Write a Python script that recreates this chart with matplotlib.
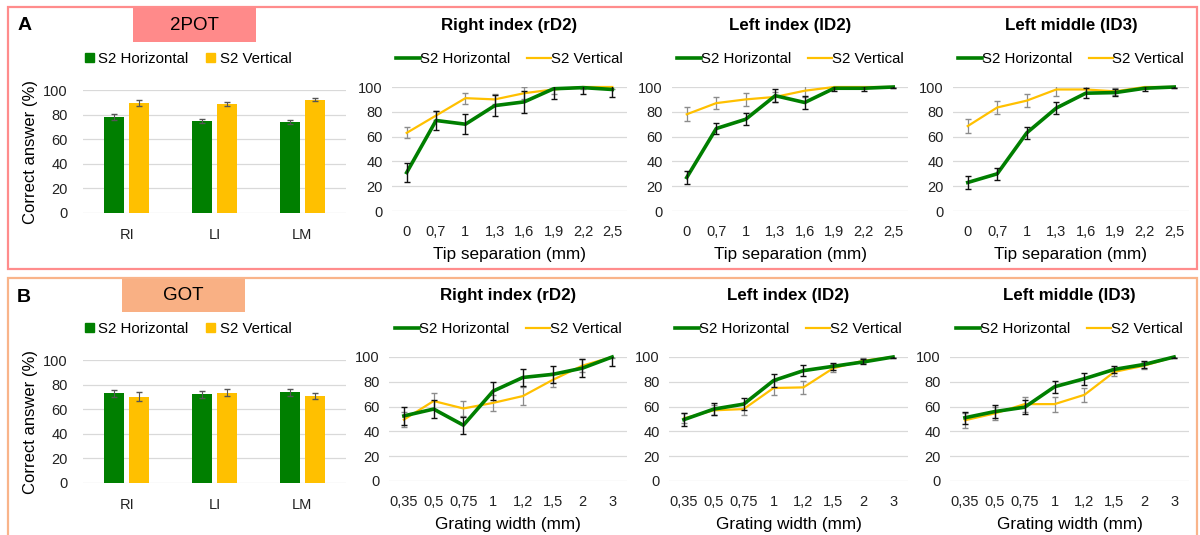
import matplotlib
matplotlib.use('Agg')
import numpy as np
from matplotlib import pyplot as plt
from matplotlib.patches import Rectangle
from matplotlib.lines import Line2D

plt.rcParams['font.family'] = ['Liberation Sans', 'DejaVu Sans']

W, H = 1200, 535
GREEN = '#007f00'
YELLOW = '#ffc000'
GRID = '#d9d9d9'

# bar charts (mean over all separations)
fingers = ['RI', 'LI', 'LM']
pot_h = [78, 74.6, 74]
pot_h_err = [2.6, 1.6, 1.4]
pot_v = [89.3, 88.6, 91.9]
pot_v_err = [2.2, 2.0, 1.2]
got_h = [73, 72.2, 73.8]
got_h_err = [2.7, 2.7, 2.8]
got_v = [70.3, 73.5, 70.8]
got_v_err = [3.6, 3.0, 2.7]

# 2POT line charts
tip_labels = ['0', '0,7', '1', '1,3', '1,6', '1,9', '2,2', '2,5']
pot_rd2_h = [31, 73, 70, 85, 88, 98.6, 99.5, 98]
pot_rd2_h_err = [8, 8, 8, 8.5, 9, 8, 5, 6]
pot_rd2_v = [63, 77, 91, 90, 95, 98, 100, 100]
pot_rd2_v_err = [4.5, 4, 4.5, 4, 5, 4, 2, 2]
pot_ld2_h = [27, 66.5, 74, 93, 87.5, 99, 99, 100]
pot_ld2_h_err = [5, 4.5, 5, 5, 5, 2, 2, 1]
pot_ld2_v = [78, 87, 90, 92, 97, 100, 100, 100]
pot_ld2_v_err = [5.5, 5, 5, 4, 5, 2, 1, 1]
pot_ld3_h = [23, 30, 63, 83, 95, 95.5, 99, 100]
pot_ld3_h_err = [5, 5, 5, 5, 4, 3, 2, 1]
pot_ld3_v = [68.5, 83.5, 89, 98, 98, 96.5, 100, 100]
pot_ld3_v_err = [5.5, 5, 5.5, 5, 3, 3, 1, 1]

# GOT line charts
grat_labels = ['0,35', '0,5', '0,75', '1', '1,2', '1,5', '2', '3']
got_rd2_h = [52.5, 58, 45, 72.5, 83.5, 86, 91, 100]
got_rd2_h_err = [7, 7, 7, 7, 7, 7, 7, 7]
got_rd2_v = [49.5, 64.5, 58.5, 63, 68.5, 81.5, 93, 100]
got_rd2_v_err = [6, 6.5, 6, 6.5, 7, 6, 5, 1]
got_ld2_h = [49.5, 58, 62, 81, 89, 92.5, 96, 100]
got_ld2_h_err = [5, 5, 5, 5, 4.5, 3, 2, 1]
got_ld2_v = [50.5, 57, 58, 75, 75.5, 91, 97, 100]
got_ld2_v_err = [4, 4, 5, 5.5, 5, 3, 2, 1]
got_ld3_h = [51, 56, 59.5, 76, 82.5, 90, 94, 100]
got_ld3_h_err = [5, 5, 5.5, 5, 5, 3, 3, 1]
got_ld3_v = [49, 54.5, 62, 62, 69.5, 88, 93, 100]
got_ld3_v_err = [6, 5, 6, 6, 5.5, 3, 3, 1]


def box(l, t, r, b):
    return [l / W, 1 - b / H, (r - l) / W, (b - t) / H]


def style_axes(ax):
    ax.set_ylim(0, 100)
    ax.set_yticks(range(0, 101, 20))
    ax.grid(axis='y', color=GRID, lw=0.9)
    ax.set_axisbelow(True)
    for s in ax.spines.values():
        s.set_visible(False)
    ax.tick_params(length=0, labelsize=10.5, colors='#222222')


def bar_chart(rect, h, h_err, v, v_err):
    ax = fig.add_axes(box(*rect))
    style_axes(ax)
    x = np.arange(len(fingers))
    w = 0.23
    ax.bar(x - 0.142, h, w, color=GREEN, zorder=2)
    ax.bar(x + 0.142, v, w, color=YELLOW, zorder=2)
    ax.errorbar(x - 0.142, h, yerr=h_err, fmt='none', ecolor='#555555',
                elinewidth=0.8, capsize=2, zorder=3)
    ax.errorbar(x + 0.142, v, yerr=v_err, fmt='none', ecolor='#555555',
                elinewidth=0.8, capsize=2, zorder=3)
    ax.set_xlim(-0.5, 2.5)
    ax.set_xticks(x)
    ax.set_xticklabels(fingers)
    ax.tick_params(axis='y', pad=11)
    ax.tick_params(axis='x', pad=11)
    ax.set_ylabel('Correct answer (%)', fontsize=12, labelpad=4)
    handles = [Rectangle((0, 0), 1, 1, color=GREEN), Rectangle((0, 0), 1, 1, color=YELLOW)]
    ax.legend(handles, ['S2 Horizontal', 'S2 Vertical'], ncol=2, frameon=False,
              loc='lower center', bbox_to_anchor=(0.4, 1.15), fontsize=10.8,
              handlelength=0.6, handleheight=0.6, handletextpad=0.3,
              columnspacing=1.2, borderaxespad=0)
    return ax


def line_chart(rect, labels, h, h_err, v, v_err, title, xlabel):
    ax = fig.add_axes(box(*rect))
    style_axes(ax)
    x = np.arange(len(labels))
    ax.errorbar(x, v, yerr=v_err, fmt='none', ecolor='#8c8c8c',
                elinewidth=0.9, capsize=2, zorder=2)
    ax.errorbar(x, h, yerr=h_err, fmt='none', ecolor='#111111',
                elinewidth=1.0, capsize=2, zorder=4)
    ax.plot(x, v, color=YELLOW, lw=1.6, clip_on=False, zorder=3)
    ax.plot(x, h, color=GREEN, lw=2.6, clip_on=False, zorder=3)
    ax.set_xlim(-0.5, len(labels) - 0.5)
    ax.set_xticks(x)
    ax.set_xticklabels(labels)
    ax.tick_params(axis='y', pad=6.5)
    ax.tick_params(axis='x', pad=10)
    ax.set_xlabel(xlabel, fontsize=12.3, labelpad=6)
    ax.set_title(title, fontsize=12.2, fontweight='bold', pad=41)
    handles = [Line2D([], [], color=GREEN, lw=2.6), Line2D([], [], color=YELLOW, lw=1.6)]
    ax.legend(handles, ['S2 Horizontal', 'S2 Vertical'], ncol=2, frameon=False,
              loc='lower center', bbox_to_anchor=(0.5, 1.12), fontsize=10.8,
              handlelength=1.6, handletextpad=0.0, columnspacing=1.1,
              borderaxespad=0)
    return ax


fig = plt.figure(figsize=(12, 5.35), dpi=100)

# panel frames and headers
fig.add_artist(Rectangle((8 / W, 1 - 269 / H), 1189 / W, 262 / H, transform=fig.transFigure,
                         fill=False, ec='#ff8c8c', lw=1.6))
fig.add_artist(Rectangle((8 / W, 1 - 545 / H), 1189 / W, 267 / H, transform=fig.transFigure,
                         fill=False, ec='#f9b48a', lw=1.6, clip_on=False))
fig.add_artist(Rectangle((133 / W, 1 - 42 / H), 123 / W, 34 / H, transform=fig.transFigure,
                         color='#ff8a8a', lw=0))
fig.add_artist(Rectangle((122 / W, 1 - 312 / H), 123 / W, 33 / H, transform=fig.transFigure,
                         color='#f9b084', lw=0))
fig.text(194 / W, 1 - 25 / H, '2POT', ha='center', va='center', fontsize=13.5)
fig.text(183 / W, 1 - 296 / H, 'GOT', ha='center', va='center', fontsize=13.5)
fig.text(18 / W, 1 - 26 / H, 'A', fontsize=14, fontweight='bold', va='center')
fig.text(17 / W, 1 - 298 / H, 'B', fontsize=14, fontweight='bold', va='center')

bar_chart((83, 90, 346, 213), pot_h, pot_h_err, pot_v, pot_v_err)
bar_chart((83, 360, 346, 483), got_h, got_h_err, got_v, got_v_err)

line_chart((392, 87, 627, 211), tip_labels, pot_rd2_h, pot_rd2_h_err, pot_rd2_v, pot_rd2_v_err,
           'Right index (rD2)', 'Tip separation (mm)')
line_chart((672, 87, 908, 211), tip_labels, pot_ld2_h, pot_ld2_h_err, pot_ld2_v, pot_ld2_v_err,
           'Left index (lD2)', 'Tip separation (mm)')
line_chart((953, 87, 1189, 211), tip_labels, pot_ld3_h, pot_ld3_h_err, pot_ld3_v, pot_ld3_v_err,
           'Left middle (lD3)', 'Tip separation (mm)')

line_chart((389, 357, 627, 481), grat_labels, got_rd2_h, got_rd2_h_err, got_rd2_v, got_rd2_v_err,
           'Right index (rD2)', 'Grating width (mm)')
line_chart((669, 357, 908, 481), grat_labels, got_ld2_h, got_ld2_h_err, got_ld2_v, got_ld2_v_err,
           'Left index (lD2)', 'Grating width (mm)')
line_chart((950, 357, 1189, 481), grat_labels, got_ld3_h, got_ld3_h_err, got_ld3_v, got_ld3_v_err,
           'Left middle (lD3)', 'Grating width (mm)')

fig.savefig('out.png', dpi=100)
